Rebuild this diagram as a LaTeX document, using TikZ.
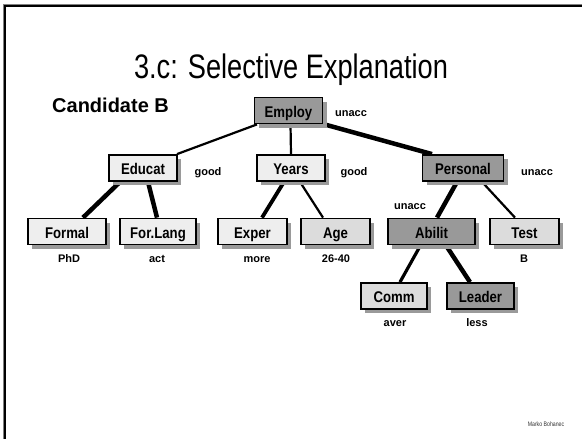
\documentclass[tikz,border=0pt]{standalone}
\usepackage{fontspec}
\setmainfont{Liberation Sans}
\newfontfamily\titlefont[FakeStretch=0.80]{Liberation Sans}
\newfontfamily\boxfont[FakeStretch=0.85]{Liberation Sans}
\usetikzlibrary{shadows,backgrounds}
\definecolor{darkfill}{HTML}{999999}
\definecolor{lightfill}{HTML}{EEEEEE}
\definecolor{midfill}{HTML}{DCDCDC}
\definecolor{shadowgray}{HTML}{9A9A9A}
\begin{document}
\begin{tikzpicture}[x=1pt,y=-1pt,
  box/.style={draw=black,line width=1.8pt,minimum height=26pt,inner sep=0pt,
    text height=13pt,text depth=0pt,
    font=\boxfont\bfseries\fontsize{15.5}{17}\selectfont,
    drop shadow={shadow xshift=4pt,shadow yshift=-4pt,fill=shadowgray,opacity=1}},
  dark/.style={box,fill=darkfill},
  light/.style={box,fill=lightfill},
  mid/.style={box,fill=midfill},
  lbl/.style={font=\bfseries\fontsize{11}{12}\selectfont,inner sep=0pt,text height=8pt,text depth=2pt},
  thin/.style={line width=2.2pt},
  medium/.style={line width=3.2pt},
  thick/.style={line width=4.5pt}]
\useasboundingbox (0,0) rectangle (582,439);
% frame
\draw[gray,line width=1pt] (3.2,439) -- (3.2,4.2) -- (582,4.2);
\draw[black,line width=2pt] (5,439) -- (5,6) -- (582,6);
% title
\node[font=\titlefont\fontsize{34}{36}\selectfont,inner sep=0pt] (title) at (291,70) {3.c: Selective Explanation};
\node[font=\bfseries\fontsize{20}{22}\selectfont,inner sep=0pt,anchor=west] (cand) at (52,105) {Candidate B};
% nodes
\node[dark,minimum width=68pt] (employ) at (288.5,110.5) {Employ};
\node[light,minimum width=68pt] (educat) at (143,168) {Educat};
\node[light,minimum width=68pt] (years) at (291,168) {Years};
\node[dark,minimum width=81pt] (personal) at (463,168) {Personal};
\node[light,minimum width=78pt] (formal) at (67,231.5) {Formal};
\node[light,minimum width=76pt] (forlang) at (158,231.5) {For.Lang};
\node[light,minimum width=69pt] (exper) at (252.5,231.5) {Exper};
\node[mid,minimum width=69pt] (age) at (335.5,231.5) {Age};
\node[dark,minimum width=87pt] (abilit) at (431.5,231.5) {Abilit};
\node[mid,minimum width=69pt] (test) at (524.5,231.5) {Test};
\node[mid,minimum width=66pt] (comm) at (394,296) {Comm};
\node[dark,minimum width=67pt] (leader) at (480.5,296) {Leader};
% labels
\node[lbl] (l1) at (351,113) {unacc};
\node[lbl] (l2) at (208,172) {good};
\node[lbl] (l3) at (354,172) {good};
\node[lbl] (l4) at (537,172) {unacc};
\node[lbl] (l5) at (410,206) {unacc};
\node[lbl] (l6) at (69,259) {PhD};
\node[lbl] (l7) at (157,259) {act};
\node[lbl] (l8) at (257,259) {more};
\node[lbl] (l9) at (336,259) {26-40};
\node[lbl] (l10) at (524,259) {B};
\node[lbl] (l11) at (395,323) {aver};
\node[lbl] (l12) at (477,323) {less};
\node[font=\titlefont\fontsize{6.5}{7}\selectfont,inner sep=0pt,text=black!80] (author) at (546,424) {Marko Bohanec};
% edges
\begin{scope}[on background layer]
\draw[thin] ([xshift=-31.5pt]employ.south) -- ([xshift=34pt]educat.north);
\draw[thin] ([xshift=2pt]employ.south) -- (years.north);
\draw[thick] ([xshift=36pt]employ.south) -- ([xshift=-31pt]personal.north);
\draw[thick] ([xshift=-23pt]educat.south) -- ([xshift=16pt]formal.north);
\draw[thick] ([xshift=5pt]educat.south) -- ([xshift=-1pt]forlang.north);
\draw[line width=3.8pt] ([xshift=-7pt]years.south) -- ([xshift=9.5pt]exper.north);
\draw[thin] ([xshift=9pt]years.south) -- ([xshift=-12.5pt]age.north);
\draw[thick] ([xshift=-6pt]personal.south) -- ([xshift=5.5pt]abilit.north);
\draw[thin] ([xshift=19pt]personal.south) -- ([xshift=-9.5pt]test.north);
\draw[medium] ([xshift=-11pt]abilit.south) -- ([xshift=6pt]comm.north);
\draw[thick] ([xshift=14.5pt]abilit.south) -- ([xshift=-10.5pt]leader.north);
\end{scope}
\end{tikzpicture}
\end{document}
